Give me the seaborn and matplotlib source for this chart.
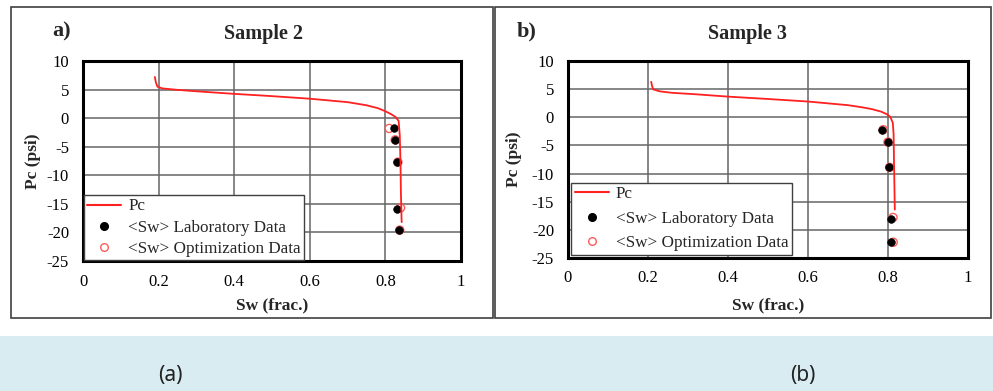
import matplotlib
matplotlib.use("Agg")
import matplotlib.pyplot as plt
import seaborn as sns
import pandas as pd
from matplotlib.patches import Rectangle
from matplotlib.lines import Line2D

# ---- data ----
s2_curve_sw = [0.190, 0.193, 0.197, 0.21, 0.25, 0.30, 0.40, 0.50, 0.60, 0.70, 0.75, 0.78, 0.80, 0.815, 0.827, 0.835, 0.838, 0.840, 0.841, 0.843]
s2_curve_pc = [7.2, 6.2, 5.5, 5.2, 4.95, 4.7, 4.25, 3.85, 3.4, 2.8, 2.25, 1.75, 1.2, 0.7, 0.2, -0.5, -3.0, -8.0, -13.0, -18.2]
s2_lab_sw = [0.823, 0.826, 0.832, 0.832, 0.835]
s2_lab_pc = [-1.8, -3.8, -7.7, -15.9, -19.6]
s2_opt_sw = [0.810, 0.826, 0.833, 0.840, 0.838]
s2_opt_pc = [-1.8, -3.8, -7.7, -15.7, -19.6]

s3_curve_sw = [0.208, 0.210, 0.213, 0.23, 0.26, 0.317, 0.40, 0.50, 0.60, 0.70, 0.733, 0.76, 0.783, 0.797, 0.806, 0.812, 0.814, 0.815, 0.816, 0.817]
s3_curve_pc = [6.3, 5.6, 4.96, 4.6, 4.35, 4.1, 3.67, 3.25, 2.8, 2.15, 1.8, 1.45, 1.0, 0.55, 0.05, -1.0, -3.0, -8.0, -12.0, -16.4]
s3_lab_sw = [0.786, 0.800, 0.803, 0.807, 0.807]
s3_lab_pc = [-2.2, -4.4, -8.9, -18.0, -22.2]
s3_opt_sw = [0.788, 0.800, 0.804, 0.8125, 0.813]
s3_opt_pc = [-2.2, -4.4, -8.9, -17.8, -22.2]

titles = ["Sample 2", "Sample 3"]
panel_tags = ["a)", "b)"]
captions = ["(a)", "(b)"]
x_ticks = [0, 0.2, 0.4, 0.6, 0.8, 1]
x_ticklabels = ["0", "0.2", "0.4", "0.6", "0.8", "1"]
y_ticks = [10, 5, 0, -5, -10, -15, -20, -25]
legend_labels = ["Pc", "<Sw> Laboratory Data", "<Sw> Optimization Data"]

sns.set_theme(style="white")
plt.rcParams['font.family'] = ['Liberation Serif', 'DejaVu Serif']
plt.rcParams['axes.unicode_minus'] = False

W, H = 993, 391
fig = plt.figure(figsize=(W / 100, H / 100), dpi=100)

def fx(px):
    return px / W

def fy(py):
    return 1 - py / H

# caption band
fig.patches.append(Rectangle((0, 0), 1, fy(336), transform=fig.transFigure,
                             facecolor="#d8ecf1", edgecolor="none", zorder=-10))
# panel frames
for (x0, x1) in [(11, 493), (495, 991)]:
    fig.patches.append(Rectangle((fx(x0), fy(318)), fx(x1 - x0), (318 - 7) / H,
                                 transform=fig.transFigure, facecolor="white",
                                 edgecolor="#404040", linewidth=1.2, zorder=-10))

panels = [
    dict(box=(83, 61, 461, 261), cs=s2_curve_sw, cp=s2_curve_pc, ls=s2_lab_sw, lp=s2_lab_pc,
         os=s2_opt_sw, op=s2_opt_pc, tag_x=62, ylab_x=33, cap_x=170,
         lspace=0.3, lpad=0.05),
    dict(box=(568, 61, 968, 258), cs=s3_curve_sw, cp=s3_curve_pc, ls=s3_lab_sw, lp=s3_lab_pc,
         os=s3_opt_sw, op=s3_opt_pc, tag_x=527, ylab_x=514, cap_x=803,
         lspace=0.5, lpad=0.2),
]

for i, p in enumerate(panels):
    l, t, r, b = p["box"]
    ax = fig.add_axes([fx(l), fy(b), (r - l) / W, (b - t) / H])
    ax.set_zorder(2)
    ax.set_facecolor("white")
    curve = pd.DataFrame({"Sw": p["cs"], "Pc": p["cp"]})
    lab = pd.DataFrame({"Sw": p["ls"], "Pc": p["lp"]})
    opt = pd.DataFrame({"Sw": p["os"], "Pc": p["op"]})
    sns.scatterplot(data=opt, x="Sw", y="Pc", ax=ax, marker="o", s=34,
                    facecolor="none", edgecolor="#ff5a5a", linewidth=1.0, zorder=3)
    sns.scatterplot(data=lab, x="Sw", y="Pc", ax=ax, marker="o", s=30,
                    color="black", edgecolor="black", linewidth=0.5, zorder=4)
    sns.lineplot(data=curve, x="Sw", y="Pc", ax=ax, sort=False, estimator=None,
                 color="#ff2020", linewidth=1.3, zorder=5)
    ax.set_xlim(0, 1)
    ax.set_ylim(-25, 10)
    ax.set_xticks(x_ticks)
    ax.set_xticklabels(x_ticklabels)
    ax.set_yticks(y_ticks)
    ax.tick_params(axis="both", length=0, labelsize=12, colors="black")
    ax.tick_params(axis="x", pad=9)
    ax.tick_params(axis="y", pad=10)
    ax.grid(True, color="#666666", linewidth=1.1)
    ax.set_axisbelow(True)
    for sp in ax.spines.values():
        sp.set_visible(True)
        sp.set_color("black")
        sp.set_linewidth(2.2)
    ax.set_xlabel("")
    ax.set_ylabel("")
    fig.text(fx((l + r) / 2), fy(305), "Sw (frac.)", ha="center", va="center",
             fontsize=12.5, fontweight="bold")
    fig.text(fx(p["ylab_x"]), fy((t + b) / 2), "Pc (psi)", ha="center", va="center",
             rotation=90, fontsize=12.5, fontweight="bold")
    fig.text(fx((l + r) / 2 + (-8 if i == 0 else -20)), fy(34), titles[i], ha="center",
             va="center", fontsize=14.5, fontweight="bold")
    fig.text(fx(p["tag_x"]), fy(31), panel_tags[i], ha="center", va="center",
             fontsize=16, fontweight="bold")
    fig.text(fx(p["cap_x"]), fy(375), captions[i], ha="center", va="center",
             fontsize=15, family=["Noto Sans", "DejaVu Sans"], color="#222222")
    handles = [
        Line2D([], [], color="#ff2020", linewidth=1.5),
        Line2D([], [], marker="o", linestyle="none", markersize=5.5,
               markerfacecolor="black", markeredgecolor="black"),
        Line2D([], [], marker="o", linestyle="none", markersize=5.5,
               markerfacecolor="none", markeredgecolor="#ff5a5a"),
    ]
    leg = ax.legend(handles, legend_labels, loc="lower left", bbox_to_anchor=(0.0, 0.0),
                    fontsize=12.3, frameon=True, fancybox=False, framealpha=1,
                    edgecolor="#404040", borderpad=0.2, labelspacing=p["lspace"],
                    handlelength=2.0, handletextpad=0.4, borderaxespad=p["lpad"])
    leg.get_frame().set_linewidth(1.0)
    leg.set_zorder(10)

fig.savefig("out.png", dpi=100)
